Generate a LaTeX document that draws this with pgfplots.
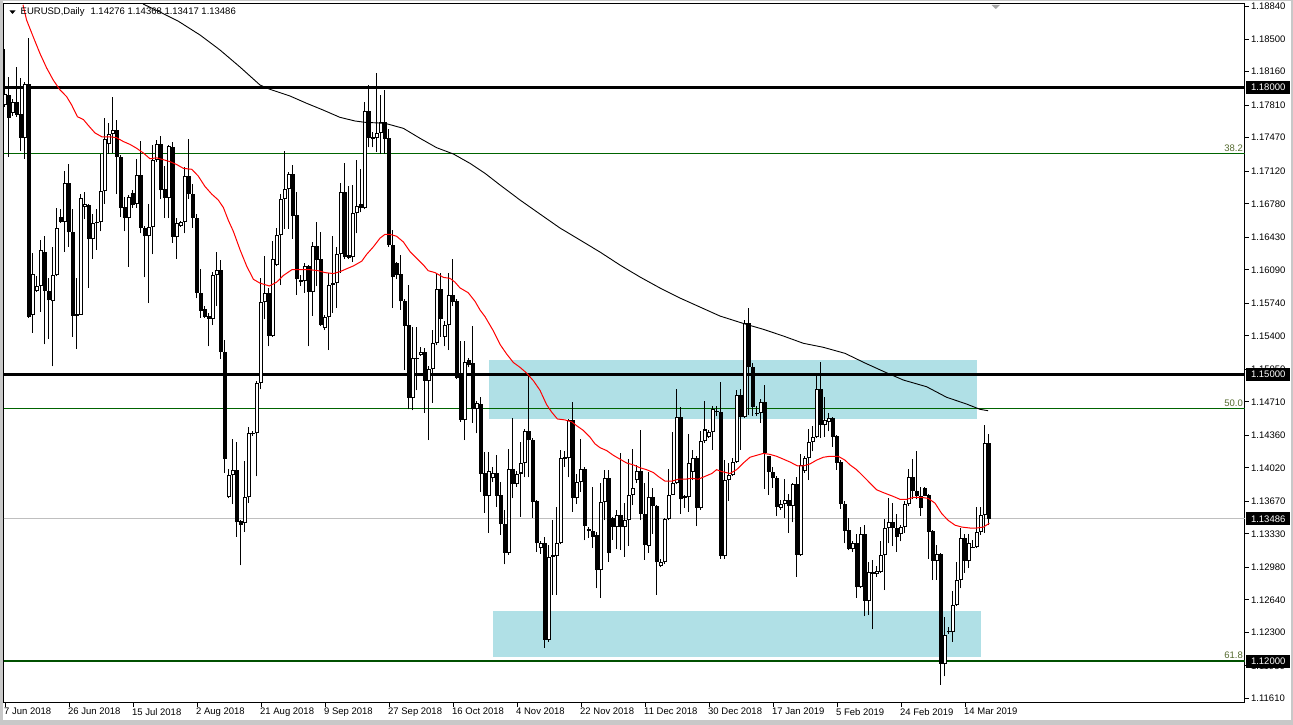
\documentclass[border=0pt]{standalone}
\usepackage{pgfplots}
\pgfplotsset{compat=1.18}
\usepackage{pgfplotstable}
\usepackage{fontspec}
\setmainfont{Liberation Sans}
\definecolor{fibgreen}{RGB}{0,100,0}
\definecolor{fibtext}{RGB}{85,107,47}
\definecolor{zone}{RGB}{176,224,230}
\definecolor{winframe}{RGB}{200,200,200}

\pgfplotstableread{
x o h l c
0 1.1781 1.1840 1.1779 1.1793
1 1.1792 1.1810 1.1727 1.1768
2 1.1773 1.1788 1.1770 1.1784
3 1.1784 1.1821 1.1769 1.1771
4 1.1772 1.1809 1.1733 1.1747
5 1.1747 1.1805 1.1725 1.1803
6 1.1803 1.1851 1.1559 1.1560
7 1.1562 1.1627 1.1543 1.1605
8 1.1587 1.1602 1.1586 1.1592
9 1.1592 1.1640 1.1565 1.1630
10 1.1628 1.1644 1.1531 1.1587
11 1.1587 1.1600 1.1537 1.1577
12 1.1576 1.1633 1.1508 1.1603
13 1.1603 1.1674 1.1602 1.1653
14 1.1664 1.1672 1.1658 1.1659
15 1.1659 1.1712 1.1628 1.1700
16 1.1700 1.1720 1.1633 1.1648
17 1.1648 1.1672 1.1539 1.1561
18 1.1563 1.1600 1.1526 1.1561
19 1.1562 1.1688 1.1562 1.1684
20 1.1675 1.1690 1.1662 1.1678
21 1.1677 1.1678 1.1590 1.1641
22 1.1641 1.1667 1.1620 1.1658
23 1.1658 1.1672 1.1630 1.1659
24 1.1659 1.1730 1.1649 1.1691
25 1.1691 1.1768 1.1678 1.1746
26 1.1740 1.1762 1.1730 1.1751
27 1.1751 1.1790 1.1731 1.1755
28 1.1755 1.1766 1.1688 1.1727
29 1.1727 1.1729 1.1664 1.1674
30 1.1675 1.1685 1.1649 1.1663
31 1.1663 1.1687 1.1612 1.1685
32 1.1689 1.1692 1.1674 1.1677
33 1.1678 1.1725 1.1674 1.1708
34 1.1708 1.1744 1.1647 1.1653
35 1.1653 1.1655 1.1601 1.1644
36 1.1644 1.1678 1.1574 1.1654
37 1.1654 1.1739 1.1625 1.1724
38 1.1724 1.1745 1.1722 1.1740
39 1.1740 1.1749 1.1683 1.1692
40 1.1693 1.1717 1.1663 1.1684
41 1.1684 1.1739 1.1663 1.1738
42 1.1737 1.1743 1.1637 1.1643
43 1.1643 1.1663 1.1620 1.1658
44 1.1655 1.1660 1.1654 1.1659
45 1.1659 1.1716 1.1647 1.1707
46 1.1707 1.1746 1.1683 1.1688
47 1.1688 1.1699 1.1653 1.1663
48 1.1663 1.1667 1.1579 1.1585
49 1.1585 1.1610 1.1559 1.1566
50 1.1568 1.1571 1.1559 1.1560
51 1.1561 1.1564 1.1529 1.1558
52 1.1558 1.1607 1.1551 1.1603
53 1.1603 1.1628 1.1571 1.1609
54 1.1609 1.1619 1.1516 1.1523
55 1.1523 1.1536 1.1397 1.1411
56 1.1371 1.1401 1.1370 1.1394
57 1.1394 1.1432 1.1364 1.1400
58 1.1400 1.1429 1.1330 1.1345
59 1.1346 1.1347 1.1300 1.1342
60 1.1344 1.1409 1.1335 1.1371
61 1.1371 1.1445 1.1365 1.1438
62 1.1438 1.1440 1.1435 1.1437
63 1.1438 1.1493 1.1393 1.1491
64 1.1491 1.1600 1.1484 1.1575
65 1.1575 1.1623 1.1557 1.1585
66 1.1585 1.1590 1.1529 1.1540
67 1.1540 1.1639 1.1539 1.1620
68 1.1614 1.1653 1.1613 1.1645
69 1.1645 1.1688 1.1593 1.1683
70 1.1683 1.1733 1.1652 1.1693
71 1.1693 1.1711 1.1652 1.1709
72 1.1709 1.1718 1.1641 1.1665
73 1.1666 1.1690 1.1583 1.1599
74 1.1598 1.1603 1.1592 1.1596
75 1.1597 1.1616 1.1585 1.1613
76 1.1613 1.1614 1.1529 1.1586
77 1.1586 1.1638 1.1561 1.1634
78 1.1634 1.1659 1.1592 1.1619
79 1.1620 1.1648 1.1550 1.1551
80 1.1548 1.1562 1.1546 1.1560
81 1.1560 1.1606 1.1525 1.1593
82 1.1593 1.1644 1.1564 1.1595
83 1.1595 1.1633 1.1569 1.1625
84 1.1625 1.1700 1.1606 1.1690
85 1.1690 1.1721 1.1620 1.1622
86 1.1624 1.1697 1.1620 1.1621
87 1.1622 1.1698 1.1617 1.1668
88 1.1668 1.1724 1.1647 1.1676
89 1.1678 1.1714 1.1669 1.1674
90 1.1674 1.1784 1.1672 1.1775
91 1.1775 1.1802 1.1737 1.1747
92 1.1746 1.1753 1.1737 1.1748
93 1.1747 1.1815 1.1732 1.1752
94 1.1752 1.1792 1.1730 1.1763
95 1.1763 1.1797 1.1730 1.1746
96 1.1747 1.1756 1.1633 1.1635
97 1.1635 1.1651 1.1569 1.1601
98 1.1616 1.1617 1.1599 1.1604
99 1.1605 1.1624 1.1567 1.1576
100 1.1576 1.1578 1.1504 1.1550
101 1.1551 1.1593 1.1463 1.1475
102 1.1475 1.1549 1.1462 1.1517
103 1.1517 1.1549 1.1483 1.1516
104 1.1520 1.1528 1.1519 1.1523
105 1.1523 1.1527 1.1459 1.1493
106 1.1493 1.1508 1.1431 1.1505
107 1.1505 1.1546 1.1470 1.1532
108 1.1532 1.1605 1.1530 1.1589
109 1.1589 1.1606 1.1539 1.1558
110 1.1539 1.1555 1.1529 1.1551
111 1.1551 1.1606 1.1525 1.1583
112 1.1583 1.1620 1.1571 1.1575
113 1.1576 1.1578 1.1495 1.1496
114 1.1499 1.1534 1.1450 1.1452
115 1.1452 1.1534 1.1431 1.1513
116 1.1515 1.1517 1.1507 1.1509
117 1.1511 1.1550 1.1449 1.1463
118 1.1463 1.1472 1.1438 1.1470
119 1.1469 1.1476 1.1377 1.1396
120 1.1397 1.1418 1.1355 1.1373
121 1.1373 1.1419 1.1334 1.1399
122 1.1391 1.1403 1.1387 1.1397
123 1.1397 1.1415 1.1361 1.1373
124 1.1374 1.1387 1.1332 1.1343
125 1.1343 1.1358 1.1301 1.1313
126 1.1313 1.1422 1.1311 1.1401
127 1.1401 1.1454 1.1370 1.1385
128 1.1385 1.1399 1.1382 1.1396
129 1.1396 1.1429 1.1351 1.1407
130 1.1407 1.1442 1.1392 1.1440
131 1.1440 1.1499 1.1392 1.1431
132 1.1431 1.1433 1.1350 1.1366
133 1.1367 1.1368 1.1314 1.1323
134 1.1318 1.1325 1.1312 1.1323
135 1.1323 1.1330 1.1214 1.1222
136 1.1222 1.1321 1.1220 1.1309
137 1.1311 1.1347 1.1269 1.1309
138 1.1310 1.1361 1.1269 1.1323
139 1.1323 1.1421 1.1322 1.1412
140 1.1413 1.1420 1.1403 1.1411
141 1.1412 1.1453 1.1392 1.1452
142 1.1452 1.1471 1.1356 1.1370
143 1.1370 1.1396 1.1364 1.1387
144 1.1387 1.1432 1.1377 1.1401
145 1.1401 1.1403 1.1326 1.1341
146 1.1338 1.1340 1.1329 1.1336
147 1.1336 1.1382 1.1318 1.1330
148 1.1332 1.1335 1.1276 1.1295
149 1.1295 1.1386 1.1266 1.1366
150 1.1366 1.1400 1.1347 1.1391
151 1.1391 1.1400 1.1304 1.1313
152 1.1349 1.1351 1.1327 1.1340
153 1.1340 1.1358 1.1317 1.1353
154 1.1353 1.1417 1.1316 1.1340
155 1.1340 1.1365 1.1309 1.1347
156 1.1347 1.1411 1.1320 1.1374
157 1.1374 1.1422 1.1363 1.1381
158 1.1389 1.1405 1.1386 1.1399
159 1.1399 1.1441 1.1347 1.1354
160 1.1354 1.1386 1.1306 1.1321
161 1.1320 1.1398 1.1313 1.1371
162 1.1371 1.1381 1.1333 1.1362
163 1.1362 1.1363 1.1269 1.1303
164 1.1299 1.1307 1.1298 1.1303
165 1.1303 1.1349 1.1301 1.1348
166 1.1348 1.1401 1.1347 1.1374
167 1.1374 1.1439 1.1374 1.1386
168 1.1386 1.1484 1.1385 1.1455
169 1.1455 1.1466 1.1354 1.1369
170 1.1372 1.1374 1.1360 1.1370
171 1.1371 1.1437 1.1356 1.1407
172 1.1398 1.1421 1.1389 1.1412
173 1.1412 1.1414 1.1341 1.1360
174 1.1360 1.1440 1.1358 1.1430
175 1.1430 1.1472 1.1428 1.1442
176 1.1434 1.1441 1.1433 1.1439
177 1.1439 1.1467 1.1421 1.1463
178 1.1461 1.1467 1.1456 1.1460
179 1.1460 1.1492 1.1307 1.1310
180 1.1310 1.1410 1.1307 1.1389
181 1.1389 1.1407 1.1367 1.1394
182 1.1394 1.1412 1.1393 1.1408
183 1.1408 1.1483 1.1407 1.1478
184 1.1478 1.1484 1.1421 1.1455
185 1.1455 1.1556 1.1454 1.1553
186 1.1553 1.1569 1.1457 1.1507
187 1.1507 1.1511 1.1456 1.1466
188 1.1459 1.1467 1.1456 1.1458
189 1.1459 1.1474 1.1449 1.1471
190 1.1471 1.1489 1.1380 1.1417
191 1.1414 1.1414 1.1374 1.1398
192 1.1398 1.1403 1.1381 1.1391
193 1.1391 1.1393 1.1352 1.1361
194 1.1360 1.1368 1.1358 1.1364
195 1.1364 1.1390 1.1349 1.1368
196 1.1368 1.1375 1.1334 1.1362
197 1.1362 1.1386 1.1345 1.1385
198 1.1385 1.1392 1.1288 1.1311
199 1.1311 1.1416 1.1310 1.1405
200 1.1399 1.1414 1.1397 1.1412
201 1.1412 1.1442 1.1389 1.1429
202 1.1429 1.1446 1.1419 1.1434
203 1.1434 1.1499 1.1433 1.1484
204 1.1484 1.1513 1.1433 1.1447
205 1.1447 1.1476 1.1434 1.1452
206 1.1450 1.1459 1.1440 1.1454
207 1.1454 1.1455 1.1424 1.1434
208 1.1435 1.1436 1.1400 1.1407
209 1.1408 1.1410 1.1359 1.1364
210 1.1364 1.1367 1.1323 1.1336
211 1.1337 1.1349 1.1316 1.1317
212 1.1317 1.1325 1.1314 1.1323
213 1.1323 1.1333 1.1266 1.1277
214 1.1277 1.1340 1.1276 1.1333
215 1.1333 1.1342 1.1247 1.1263
216 1.1263 1.1304 1.1248 1.1293
217 1.1293 1.1306 1.1233 1.1291
218 1.1291 1.1299 1.1288 1.1294
219 1.1293 1.1325 1.1292 1.1311
220 1.1311 1.1348 1.1274 1.1339
221 1.1339 1.1370 1.1323 1.1345
222 1.1345 1.1365 1.1320 1.1339
223 1.1339 1.1354 1.1314 1.1330
224 1.1333 1.1342 1.1325 1.1340
225 1.1340 1.1367 1.1334 1.1364
226 1.1364 1.1401 1.1362 1.1392
227 1.1392 1.1411 1.1369 1.1378
228 1.1378 1.1419 1.1369 1.1372
229 1.1372 1.1382 1.1352 1.1360
230 1.1381 1.1382 1.1372 1.1373
231 1.1374 1.1375 1.1307 1.1335
232 1.1336 1.1337 1.1285 1.1305
233 1.1305 1.1321 1.1285 1.1312
234 1.1312 1.1313 1.1175 1.1197
235 1.1197 1.1246 1.1184 1.1227
236 1.1231 1.1236 1.1228 1.1230
237 1.1230 1.1273 1.1220 1.1259
238 1.1259 1.1303 1.1258 1.1285
239 1.1285 1.1339 1.1276 1.1329
240 1.1329 1.1333 1.1292 1.1305
241 1.1305 1.1333 1.1297 1.1323
242 1.1319 1.1327 1.1318 1.1318
243 1.1319 1.1361 1.1318 1.1335
244 1.1335 1.1361 1.1332 1.1353
245 1.1353 1.1447 1.1334 1.1428
246 1.14276 1.14368 1.13417 1.13486
}\candles

\begin{document}
\begin{tikzpicture}[x=1pt,y=1pt]
\useasboundingbox (0,0) rectangle (1293,725);
\fill[white] (0,0) rectangle (1293,725);
\fill[winframe] (0,0) rectangle (1293,5);
\fill[winframe] (0,0) rectangle (2.5,725);
\fill[winframe] (0,723.5) rectangle (1293,725);
\fill[winframe] (1290.5,0) rectangle (1293,725);
\begin{axis}[
  at={(4pt,22pt)}, anchor=south west,
  scale only axis, width=1241pt, height=699pt,
  xmin=-0.25, xmax=310, ymin=1.11561, ymax=1.18868,
  clip mode=individual,
  axis line style={black, line width=1pt},
  tick style={black, line width=0.8pt},
  tick align=outside, major tick length=4pt,
  xtick pos=bottom, ytick pos=right,
  scaled y ticks=false, scaled x ticks=false,
  xtick={0,16,...,240},
  xticklabels={7 Jun 2018, 26 Jun 2018, 15 Jul 2018, 2 Aug 2018, 21 Aug 2018, 9 Sep 2018, 27 Sep 2018, 16 Oct 2018, 4 Nov 2018, 22 Nov 2018, 11 Dec 2018, 30 Dec 2018, 17 Jan 2019, 5 Feb 2019, 24 Feb 2019, 14 Mar 2019},
  ytick={1.18840,1.18500,1.18160,1.17810,1.17470,1.17120,1.16780,1.16430,1.16090,1.15740,1.15400,1.15050,1.14710,1.14360,1.14020,1.13670,1.13330,1.12980,1.12640,1.12300,1.11950,1.11610},
  yticklabels={1.18840,1.18500,1.18160,1.17810,1.17470,1.17120,1.16780,1.16430,1.16090,1.15740,1.15400,1.15050,1.14710,1.14360,1.14020,1.13670,1.13330,1.12980,1.12640,1.12300,1.11950,1.11610},
  ticklabel style={font=\fontsize{9.5}{11}\selectfont, inner sep=0pt},
  xticklabel style={anchor=north west, xshift=-1pt, yshift=-1pt},
  yticklabel style={anchor=west, xshift=2pt},
]
% zones (background)
\addplot[fill=zone, draw=none, forget plot] coordinates {(121,1.15146) (243,1.15146) (243,1.14530) (121,1.14530)} -- cycle;
\addplot[fill=zone, draw=none, forget plot] coordinates {(122,1.12522) (244,1.12522) (244,1.12042) (122,1.12042)} -- cycle;
% horizontal levels
\addplot[gray!50, line width=1pt, forget plot] coordinates {(-1,1.13486) (311,1.13486)};
\addplot[fibgreen, line width=0.8pt, forget plot] coordinates {(-1,1.1731) (311,1.1731)};
\addplot[fibgreen, line width=0.8pt, forget plot] coordinates {(-1,1.14645) (311,1.14645)};
\addplot[black, line width=3pt, forget plot] coordinates {(-1,1.18) (311,1.18)};
\addplot[black, line width=3pt, forget plot] coordinates {(-1,1.15) (311,1.15)};
\addplot[fibgreen!80!black, line width=2pt, forget plot] coordinates {(-1,1.12) (311,1.12)};
% wicks
\addplot[draw=none, mark=none, forget plot,
  error bars/.cd, y dir=plus, y explicit, error mark=none,
  error bar style={draw=black, solid, line width=1pt}]
  table[x=x, y=l, y error expr={\thisrow{h}-\thisrow{l}}] {\candles};
% bodies
\addplot[draw=none, mark=none, forget plot,
  error bars/.cd, y dir=plus, y explicit, error mark=none,
  error bar style={draw=black, solid, line width=3.2pt}]
  table[x=x, y expr={min(\thisrow{o},\thisrow{c})}, y error expr={max(abs(\thisrow{c}-\thisrow{o}),0.00011)}] {\candles};
% white interiors of rising candles (zero length for falling ones)
\addplot[draw=none, mark=none, forget plot,
  error bars/.cd, y dir=plus, y explicit, error mark=none,
  error bar style={draw=white, solid, line width=1.3pt}]
  table[x=x, y expr={\thisrow{o}+0.000105}, y error expr={max(\thisrow{c}-\thisrow{o}-0.00021,0)}] {\candles};
% moving averages
\addplot[red, line width=1pt, forget plot] coordinates {
(4.5,1.1886) (5.4,1.1870) (7.1,1.1852) (8.75,1.1835) (10.4,1.1820) (12.1,1.1807) (13.75,1.1797) (15.4,1.1790) (16.7,1.1781) (18.1,1.1769) (19.6,1.1766) (20.8,1.1760) (22.5,1.1752) (24.2,1.1748) (26.25,1.1748) (27.9,1.1747) (29.6,1.1743) (31.25,1.1740) (32.9,1.1736) (34.6,1.1731) (36.25,1.1725) (37.9,1.1726) (39.6,1.1724) (41.25,1.1722) (42.9,1.1719) (44.6,1.1715) (46.7,1.1714) (48.3,1.1707) (50,1.1696) (51.7,1.1688) (53.3,1.1682) (54.6,1.1674) (55.8,1.1661) (57.1,1.1649) (58.75,1.1630) (60.4,1.1613) (62.1,1.1599) (63.75,1.1595) (66.1,1.1592) (67.9,1.1596) (69.6,1.1603) (71.7,1.1609) (73.75,1.1609) (76.25,1.1609) (78.3,1.1608) (80,1.1606) (82.1,1.1605) (83.75,1.1607) (85.4,1.1610) (87.1,1.1613) (89.2,1.1618) (90.4,1.1625) (92.1,1.1633) (93.75,1.1642) (95,1.1646) (96.25,1.1646) (97.9,1.1644) (99.6,1.1638) (101.25,1.1628) (102.9,1.1621) (104.6,1.1614) (105.8,1.1608) (107.5,1.1606) (109.6,1.1601) (111.25,1.1600) (112.5,1.1596) (113.75,1.1590) (115.8,1.1585) (117.5,1.1576) (118.75,1.1567) (120,1.1560) (122.1,1.1545) (123.75,1.1531) (125.4,1.1521) (127.1,1.1512) (128.75,1.1507) (130.4,1.1501) (132.1,1.1493) (133.75,1.1483) (135.4,1.1468) (136.7,1.1460) (138.1,1.1453) (140,1.1452) (141.7,1.1450) (142.9,1.1446) (144.6,1.1441) (146.25,1.1434) (147.5,1.1427) (148.75,1.1423) (150.4,1.1420) (152.1,1.1415) (153.75,1.1411) (155.4,1.1407) (157.1,1.1405) (158.75,1.1402) (160.4,1.1400) (162.1,1.1397) (163.3,1.1393) (165,1.1388) (166.7,1.1388) (168.3,1.1390) (170,1.1390) (171.7,1.1391) (173.3,1.1390) (175,1.1393) (176.7,1.1396) (177.9,1.1400) (179.2,1.1398) (181.25,1.1396) (182.9,1.1400) (184.6,1.1407) (186.25,1.1413) (187.9,1.1415) (189.6,1.1417) (191.25,1.1416) (192.9,1.1414) (194.6,1.1411) (196.25,1.1408) (198.1,1.1404) (199.6,1.1404) (201.25,1.1406) (202.9,1.1410) (204.6,1.1413) (206.25,1.1414) (208.3,1.1414) (210,1.1410) (211.25,1.1405) (212.9,1.1400) (214.6,1.1393) (216.25,1.1386) (217.9,1.1379) (219.6,1.1376) (222.1,1.1372) (223.75,1.1369) (225.4,1.1369) (227.1,1.1371) (229.2,1.1371) (230.8,1.1370) (232.5,1.1365) (234.2,1.1354) (235.8,1.1347) (237.5,1.1342) (239.2,1.1340) (241.25,1.1339) (242.9,1.1339) (244.6,1.1340) (246.1,1.1344)};
\addplot[black, line width=0.9pt, forget plot] coordinates {
(34.5,1.18868) (38.75,1.18784) (43.25,1.1869) (48.75,1.18544) (53.75,1.18387) (58.75,1.18209) (63.75,1.18021) (66.25,1.17976) (71.25,1.17906) (75.4,1.17830) (79.5,1.17760) (83.75,1.17683) (87.5,1.17645) (90,1.17631) (95,1.17621) (99.6,1.17568) (103.75,1.17464) (107.9,1.17366) (112.1,1.17300) (116.25,1.17202) (120,1.17098) (123.75,1.16976) (128.75,1.16819) (133.75,1.16672) (138.75,1.16526) (143.75,1.16401) (148.75,1.16275) (153.75,1.16139) (158.75,1.16014) (163.75,1.15899) (168.75,1.15794) (173.75,1.15700) (178.75,1.15606) (185,1.15523) (189.6,1.15467) (194.6,1.15397) (199.6,1.15321) (204.6,1.15279) (210,1.15216) (215,1.15115) (220,1.1502) (224.6,1.14937) (230.4,1.14867) (235.4,1.14757) (240.4,1.14686) (243.75,1.14631) (245.8,1.14616)};
% level labels
\node[anchor=south east, inner sep=0pt, xshift=-2pt, yshift=1.5pt, text=fibtext, font=\fontsize{9.5}{11}\selectfont] at (axis cs:310,1.1731) {38.2};
\node[anchor=south east, inner sep=0pt, xshift=-2pt, yshift=1.5pt, text=fibtext, font=\fontsize{9.5}{11}\selectfont] at (axis cs:310,1.14645) {50.0};
\node[anchor=south east, inner sep=0pt, xshift=-2pt, yshift=2pt, text=fibtext, font=\fontsize{9.5}{11}\selectfont] at (axis cs:310,1.12) {61.8};
% price boxes
\node[anchor=west, fill=black, text=white, inner sep=0pt, minimum width=44pt, minimum height=13pt, xshift=1pt, font=\fontsize{9.5}{11}\selectfont] at (axis cs:310,1.18) {1.18000};
\node[anchor=west, fill=black, text=white, inner sep=0pt, minimum width=44pt, minimum height=13pt, xshift=1pt, font=\fontsize{9.5}{11}\selectfont] at (axis cs:310,1.15) {1.15000};
\node[anchor=west, fill=black, text=white, inner sep=0pt, minimum width=44pt, minimum height=13pt, xshift=1pt, font=\fontsize{9.5}{11}\selectfont] at (axis cs:310,1.13486) {1.13486};
\node[anchor=west, fill=black, text=white, inner sep=0pt, minimum width=44pt, minimum height=13pt, xshift=1pt, font=\fontsize{9.5}{11}\selectfont] at (axis cs:310,1.12) {1.12000};
\end{axis}
% title and markers
\fill[black] (9.5,714.5) -- (15.5,714.5) -- (12.5,711) -- cycle;
\node[anchor=west, inner sep=0pt, font=\fontsize{9.5}{11}\selectfont] at (20.5,712.5) {EURUSD,Daily\hspace{6pt}1.14276 1.14368 1.13417 1.13486};
\fill[gray!70] (991.5,720) -- (1000,720) -- (995.75,716) -- cycle;
\end{tikzpicture}
\end{document}
